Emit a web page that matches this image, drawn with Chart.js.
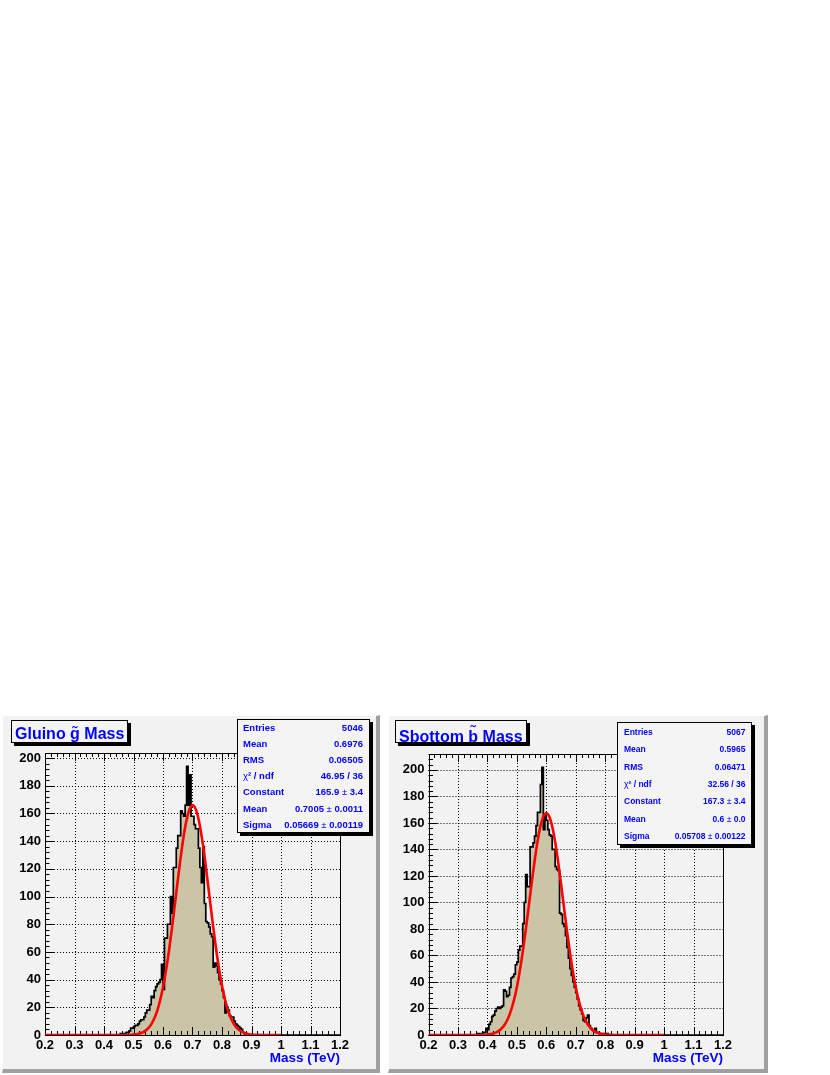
<!DOCTYPE html>
<html>
<head>
<meta charset="utf-8">
<script src="https://cdn.jsdelivr.net/npm/chart.js@4.4.1/dist/chart.umd.min.js"></script>
<style>
    body { margin: 0; background: #fff; width: 830px; height: 1075px; position: relative; overflow: hidden; font-family: 'Liberation Sans', Arial, Helvetica, sans-serif; }
    .pad { position: absolute; box-sizing: border-box; background: #f2f2f2; border-top: 1px solid #fff; border-left: 1px solid #fff; border-right: 4px solid #a0a0a0; border-bottom: 4px solid #a0a0a0; }
    canvas { position: absolute; }
    .tbox { position: absolute; background: #f4f4f4; border: 1px solid #000; box-shadow: 3px 3px 0 #000; }
    .ttext { position: absolute; font-weight: bold; font-size: 16px; line-height: 16px; color: #0000ff; white-space: nowrap; }
    .acc { position: relative; display: inline-block; }
    .acc .tl { position: absolute; left: 0; right: 0; text-align: center; font-weight: normal; }
    .stats { position: absolute; background: #f4f4f4; border: 1px solid #000; box-shadow: 3px 3px 0 #000; box-sizing: border-box; }
    .row { position: absolute; display: flex; justify-content: space-between; font-weight: bold; color: #0000ff; white-space: nowrap; }
    .pm, .chi { font-weight: normal; }
    .axtitle { position: absolute; font-weight: bold; font-size: 13.5px; line-height: 16px; color: #0000ff; white-space: nowrap; text-align: right; }
</style>
</head>
<body>
<div class="pad" style="left:2px; top:715px; width:378px; height:358px"></div>
<div class="pad" style="left:388px; top:715px; width:380px; height:358px"></div>

<canvas id="gluinoChart" width="380" height="358" style="left:0px; top:716px"></canvas>
<canvas id="sbottomChart" width="383" height="358" style="left:385px; top:716px"></canvas>

<div class="tbox" style="left:11px; top:720px; width:115px; height:21px"></div>
<div class="ttext" style="left:15px; top:726px">Gluino <span class="acc">g<span class="tl" style="top:-1px">˜</span></span> Mass</div>
<div class="tbox" style="left:395px; top:720px; width:130px; height:21px"></div>
<div class="ttext" style="left:399px; top:729px">Sbottom <span class="acc">b<span class="tl" style="top:-5px">˜</span></span> Mass</div>

<div class="stats" id="gluinoStatsBox" style="left:237px; top:719px; width:133px; height:114px"></div>
<div class="stats" id="sbottomStatsBox" style="left:617px; top:722px; width:135px; height:123px"></div>

<div class="axtitle" style="left:240px; width:100px; top:1050px">Mass (TeV)</div>
<div class="axtitle" style="left:623px; width:100px; top:1050px">Mass (TeV)</div>

<script>
// --- Data ---
const massMin = 0.2;
const massMax = 1.2;
const binWidth = 0.005;
const fitMax = 1.0;
const fitStep = 0.01;

// gluino histogram: counts per 0.005 TeV bin, first bin lower edge below
const gluinoFirstEdge = 0.455;
const gluinoCounts = [
    0, 1, 0, 1, 1, 2, 2, 3, 5, 5,
    6, 7, 7, 8, 10, 11, 11, 13, 16, 18,
    18, 22, 28, 27, 32, 35, 37, 38, 40, 51,
    33, 70, 70, 80, 80, 100, 88, 121, 121, 135,
    144, 144, 162, 160, 158, 166, 194, 166, 188, 158,
    158, 152, 149, 149, 135, 121, 110, 136,
    95, 82, 81, 78, 73, 71, 49, 52, 50, 45, 40, 37, 32, 27, 16, 20, 18, 14, 13, 13, 10, 8, 7, 6, 5, 4, 2, 1, 1
];
// gaussian fit curve (red), sampled every 0.01 TeV
const gluinoFitStart = 0.45;
const gluinoFit = [
    0.0, 0.0, 0.0, 0.1, 0.2, 0.3, 0.6, 1.0, 1.8, 3.0,
    4.9, 7.7, 11.7, 17.3, 24.8, 34.5, 46.4, 60.5, 76.6, 93.9,
    111.6, 128.5, 143.6, 155.4, 163.1, 165.9, 163.6, 156.4, 144.9, 130.2,
    113.3, 95.6, 78.3, 62.1, 47.7, 35.6, 25.7, 18.0, 12.2, 8.0,
    5.1, 3.2, 1.9, 1.1, 0.6, 0.3, 0.2, 0.1, 0.0
];

const sbottomFirstEdge = 0.365;
const sbottomCounts = [
    0, 1, 0, 1, 1, 2, 2, 5, 4, 8,
    10, 14, 15, 18, 20, 21, 20, 21, 22, 34,
    33, 29, 30, 36, 43, 44, 46, 53, 55, 64,
    67, 67, 84, 100, 121, 112, 112, 142, 142, 145,
    150, 158, 168, 168, 189, 202, 155, 166, 162, 155,
    151, 150, 140, 140, 127, 125, 124, 92, 91, 84,
    82, 75, 66, 58, 50, 45, 40, 36, 32, 27,
    22, 19, 16, 11, 10, 13, 15, 7, 5, 4,
    3, 5, 2, 2, 1, 1, 0, 1, 0, 1
];
const sbottomFitStart = 0.35;
const sbottomFit = [
    0.0, 0.0, 0.0, 0.1, 0.2, 0.4, 0.7, 1.2, 2.0, 3.3,
    5.3, 8.3, 12.5, 18.4, 26.1, 36.1, 48.3, 62.7, 78.9, 96.3,
    114.0, 130.9, 145.7, 157.4, 164.8, 167.3, 164.8, 157.4, 145.7, 130.9,
    114.0, 96.3, 78.9, 62.7, 48.3, 36.1, 26.1, 18.4, 12.5, 8.3,
    5.3, 3.3, 2.0, 1.2, 0.7, 0.4, 0.2, 0.1, 0.0
];

const xTickStep = 0.1;
const yTickStep = 20;

const statLabels = ['Entries', 'Mean', 'RMS', '<span class="chi">χ</span>² / ndf', 'Constant', 'Mean', 'Sigma'];
const gluinoStats = ['5046', '0.6976', '0.06505', '46.95 / 36', '165.9 ± 3.4', '0.7005 ± 0.0011', '0.05669 ± 0.00119'];
const sbottomStats = ['5067', '0.5965', '0.06471', '32.56 / 36', '167.3 ± 3.4', '0.6 ± 0.0', '0.05708 ± 0.00122'];

// --- Helpers ---
function histPoints(firstEdge, counts) {
    const pts = [{ x: massMin, y: 0 }];
    counts.forEach((c, i) => pts.push({ x: firstEdge + i * binWidth, y: c }));
    pts.push({ x: firstEdge + counts.length * binWidth, y: 0 });
    pts.push({ x: massMax, y: 0 });
    return pts;
}

function fitPoints(start, vals) {
    const pts = [{ x: massMin, y: 0 }];
    vals.forEach((v, i) => pts.push({ x: start + i * fitStep, y: v }));
    pts.push({ x: fitMax, y: 0 });
    return pts;
}

function fillStats(boxId, values, fontSize, pitch, firstCenter, padL, padR) {
    const box = document.getElementById(boxId);
    const lh = 12;
    statLabels.forEach((label, i) => {
        const row = document.createElement('div');
        row.className = 'row';
        row.style.left = padL + 'px';
        row.style.right = padR + 'px';
        row.style.top = (firstCenter - lh / 2 + i * pitch) + 'px';
        row.style.height = lh + 'px';
        row.style.lineHeight = lh + 'px';
        row.style.fontSize = fontSize + 'px';
        const val = values[i].split('±').join('<span class="pm">±</span>');
        row.innerHTML = `<span>${label}</span><span>${val}</span>`;
        box.appendChild(row);
    });
}

// draws the ROOT-like dotted grid, frame and tick marks through the chart scales
const rootFrame = {
    id: 'rootFrame',
    beforeDatasetsDraw(chart) {
        const { ctx, chartArea: a, scales: { x, y } } = chart;
        ctx.save();
        ctx.strokeStyle = '#000';
        ctx.lineWidth = 1;
        ctx.setLineDash([1, 2]);
        ctx.beginPath();
        x.ticks.forEach(t => {
            const px = Math.round(x.getPixelForValue(t.value)) + 0.5;
            ctx.moveTo(px, a.top); ctx.lineTo(px, a.bottom);
        });
        y.ticks.forEach(t => {
            const py = Math.round(y.getPixelForValue(t.value)) + 0.5;
            ctx.moveTo(a.left, py); ctx.lineTo(a.right, py);
        });
        ctx.stroke();
        ctx.restore();
    },
    afterDatasetDraw(chart, args) {
        if (args.index !== 0) return;
        const { ctx, chartArea: a, scales: { x, y } } = chart;
        ctx.save();
        ctx.strokeStyle = '#000';
        ctx.lineWidth = 1;
        ctx.setLineDash([]);
        ctx.beginPath();
        // x ticks, bottom and top, minor every 0.02
        for (let k = 0; k <= 50; k++) {
            const v = massMin + k * 0.02;
            const px = Math.round(x.getPixelForValue(v)) + 0.5;
            const len = k % 5 === 0 ? 8 : 4;
            ctx.moveTo(px, a.bottom); ctx.lineTo(px, a.bottom - len);
            ctx.moveTo(px, a.top); ctx.lineTo(px, a.top + len);
        }
        // y ticks, minor every 4
        for (let v = 0; v <= y.max; v += 4) {
            const py = Math.round(y.getPixelForValue(v)) + 0.5;
            const len = v % 20 === 0 ? 9 : 4.5;
            ctx.moveTo(a.left, py); ctx.lineTo(a.left + len, py);
        }
        ctx.stroke();
        ctx.strokeRect(Math.round(a.left) + 0.5, Math.round(a.top) + 0.5,
            Math.round(a.right) - Math.round(a.left), Math.round(a.bottom) - Math.round(a.top));
        ctx.restore();
    }
};

function makeChart(canvasId, firstEdge, counts, fitStart, fit, yMax, pad, yWidth) {
    const tickFont = { family: "'Liberation Sans', Arial, Helvetica, sans-serif", size: 13, weight: 'bold' };
    return new Chart(document.getElementById(canvasId), {
        type: 'line',
        data: {
            datasets: [
                {
                    data: histPoints(firstEdge, counts),
                    stepped: 'after',
                    fill: 'origin',
                    backgroundColor: '#cbc5a7',
                    borderColor: '#000000',
                    borderWidth: 1.7,
                    pointRadius: 0,
                    order: 1
                },
                {
                    data: fitPoints(fitStart, fit),
                    fill: false,
                    borderColor: '#ff0000',
                    borderWidth: 2.6,
                    pointRadius: 0,
                    cubicInterpolationMode: 'monotone',
                    order: 0
                }
            ]
        },
        options: {
            responsive: false,
            animation: false,
            devicePixelRatio: 1,
            layout: { padding: pad },
            plugins: { legend: { display: false }, tooltip: { enabled: false } },
            scales: {
                x: {
                    type: 'linear',
                    min: massMin,
                    max: massMax,
                    afterFit: s => { s.height = 39; },
                    grid: { display: false, drawTicks: false },
                    border: { display: false },
                    ticks: {
                        stepSize: xTickStep,
                        includeBounds: false,
                        autoSkip: false,
                        maxRotation: 0,
                        padding: 3,
                        color: '#000',
                        font: tickFont,
                        callback: v => String(+Number(v).toFixed(1))
                    }
                },
                y: {
                    type: 'linear',
                    min: 0,
                    max: yMax,
                    afterFit: s => { s.width = yWidth; },
                    grid: { display: false, drawTicks: false },
                    border: { display: false },
                    ticks: {
                        stepSize: yTickStep,
                        includeBounds: false,
                        padding: 4,
                        color: '#000',
                        font: tickFont,
                        callback: v => String(Math.round(v))
                    }
                }
            }
        },
        plugins: [rootFrame]
    });
}

makeChart('gluinoChart', gluinoFirstEdge, gluinoCounts, gluinoFitStart, gluinoFit, 203.7,
    { left: 0, right: 40, top: 37, bottom: 0 }, 45);
makeChart('sbottomChart', sbottomFirstEdge, sbottomCounts, sbottomFitStart, sbottomFit, 212,
    { left: 0, right: 45, top: 38, bottom: 0 }, 43.5);

fillStats('gluinoStatsBox', gluinoStats, 9.5, 16.1, 8, 5, 6);
fillStats('sbottomStatsBox', sbottomStats, 8.5, 17.4, 8.7, 6, 5.5);
</script>
</body>
</html>
